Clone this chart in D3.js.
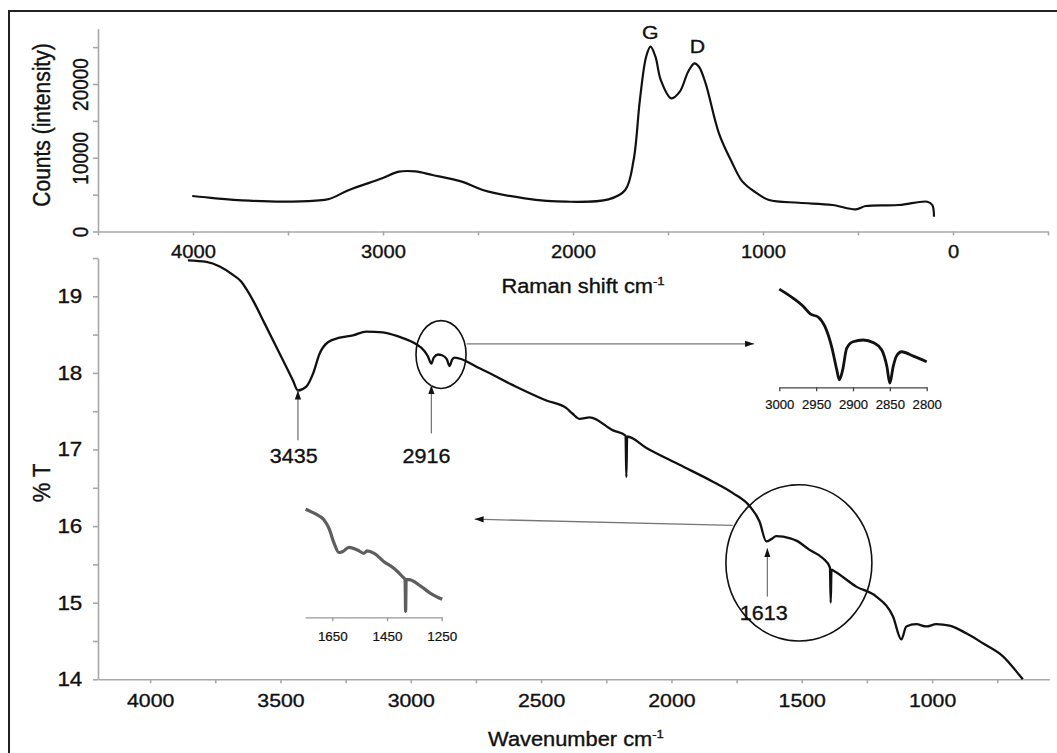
<!DOCTYPE html>
<html><head><meta charset="utf-8">
<script src="https://cdn.jsdelivr.net/npm/d3@7"></script>
<style>
body{margin:0;background:#fff}
svg{display:block}
text{font-family:"Liberation Sans",Arial,sans-serif;fill:#111;stroke:#111;stroke-width:0.35px}
</style>
</head><body>
<svg id="c" width="1057" height="753"></svg>
<script>
// ---------------- DATA ----------------
// Raman spectrum (top panel)
const ramanShift  = [4004,3881,3705,3530,3354,3284,3179,3004,2916,2830,2740,2585,2475,2254,2034,1813,1725,1681,1648,1615,1592,1566,1538,1483,1438,1394,1361,1337,1302,1232,1162,1109,1039,968,811,635,512,459,284,135,109,100];
const ramanCounts = [4810,4500,4180,4040,4180,4400,5630,7210,8110,8150,7660,6760,5630,4500,4040,4360,5630,9690,17830,23700,25060,23700,20540,18060,18960,21670,22800,22340,20090,13310,9300,6800,5300,4270,3900,3590,3000,3460,3590,4040,3590,2000];
const ramanPeakNames = ["G","D"];
const ramanPeakShift = [1593,1345];
const ramanPeakLabelCounts = [26060,24160];
const ramanXTicks  = [4500,4000,3500,3000,2500,2000,1500,1000,500,0,-500];
const ramanXLabels = [4000,3000,2000,1000,0];
const countsTicks  = [0,5000,10000,15000,20000,25000];
const countsLabels = [0,10000,20000];

// FTIR spectrum (bottom panel)
const ftirWave = [3855,3784,3733,3682,3650,3630,3606,3560,3510,3452,3433,3401,3375,3350,3318,3273,3222,3171,3107,3043,2992,2973,2960,2935,2921,2912,2896,2880,2862,2851,2842,2832,2736,2608,2480,2403,2380,2352,2314,2224,2176,2173,2170,2096,1969,1841,1764,1700,1662,1636,1617,1598,1544,1521,1470,1419,1392,1389,1386,1375,1291,1214,1150,1118,1099,1061,1022,984,933,869,805,728,664,652];
const ftirT    = [19.47,19.45,19.39,19.28,19.19,19.09,18.95,18.64,18.30,17.90,17.77,17.82,17.99,18.25,18.40,18.46,18.49,18.54,18.53,18.47,18.40,18.36,18.33,18.22,18.12,18.20,18.24,18.23,18.18,18.09,18.17,18.20,18.06,17.84,17.64,17.54,17.47,17.40,17.42,17.25,17.18,16.64,17.17,17.02,16.80,16.58,16.43,16.26,16.06,15.80,15.83,15.87,15.84,15.81,15.69,15.58,15.46,15.00,15.43,15.41,15.21,15.08,14.82,14.52,14.69,14.72,14.69,14.72,14.70,14.60,14.47,14.30,14.05,14.00];
const ftirXTicks  = [4000,3750,3500,3250,3000,2750,2500,2250,2000,1750,1500,1250,1000,750];
const ftirXLabels = [4000,3500,3000,2500,2000,1500,1000];
const tTicks  = [14,14.5,15,15.5,16,16.5,17,17.5,18,18.5,19,19.5];
const tLabels = [14,15,16,17,18,19];

// peak annotations (wavenumber / %T)
const peakLabel  = ["3435","2916","1613"];
const peakWave   = [3433,2921,1632];
const peakTipT   = [17.77,17.84,15.71];
const peakTailT  = [17.12,17.21,15.08];
const labelWave  = [3449,2940,1646];
const labelT     = [16.82,16.83,14.78];

// zoom circles and connector arrows (wavenumber / %T)
const circleWave = [2884,1511];
const circleT    = [18.24,15.52];
const circleHalfWave = [96,280];
const circleHalfT    = [0.443,1.02];
const connFromWave = [2786,1765];
const connFromT    = [18.38,16.01];
const connToWave   = [1683,2755];
const connToT      = [18.38,16.09];

// inset 1: C-H stretching region
const inset1Wave = [3000,2981,2967,2958,2947,2938,2929,2922,2918.6,2914,2908.6,2900,2886,2872,2861,2854,2850,2845.5,2841,2834,2818,2800];
const inset1T    = [18.434,18.398,18.365,18.337,18.324,18.287,18.209,18.118,18.079,18.118,18.202,18.228,18.235,18.224,18.196,18.131,18.066,18.131,18.172,18.189,18.172,18.150];
const inset1Ticks = [3000,2950,2900,2850,2800];

// inset 2: 1750-1250 region
const inset2Wave = [1748,1705,1681,1662,1644,1626,1613,1589,1558,1534,1524,1497,1461,1424,1394,1384,1382,1380,1370,1327,1291,1248];
const inset2T    = [16.25,16.18,16.12,16.01,15.83,15.71,15.72,15.775,15.74,15.70,15.73,15.70,15.595,15.51,15.41,15.37,14.97,15.37,15.37,15.29,15.20,15.125];
const inset2Ticks = [1650,1450,1250];

// ---------------- DRAWING ----------------
const SX = 1.12;
const svg = d3.select("#c");

const defs = svg.append("defs");
defs.append("marker").attr("id","ah").attr("viewBox","0 0 10 10").attr("refX",10).attr("refY",5)
  .attr("markerWidth",9).attr("markerHeight",9).attr("markerUnits","userSpaceOnUse").attr("orient","auto")
  .append("path").attr("d","M0,1.5L10,5L0,8.5Z").attr("fill","#111");

// frame
svg.append("path").attr("d","M9,753V11H1057").attr("fill","none").attr("stroke","#222").attr("stroke-width",2);

function styleAxis(g, color, w){
  g.selectAll("path.domain").attr("stroke",color).attr("stroke-width",w);
  g.selectAll(".tick line").attr("stroke",color).attr("stroke-width",w);
}
const intFmt = d3.format("d");

// ----- top panel: Raman -----
const xR = d3.scaleLinear().domain([4500,-500]).range([98,1048]);
const yR = d3.scaleLinear().domain([0,27500]).range([231.5,28.7]);

const gxR = svg.append("g").attr("transform",`translate(0,${yR(0)})`)
  .call(d3.axisBottom(xR).tickValues(ramanXTicks).tickSize(4).tickSizeOuter(0).tickPadding(10)
    .tickFormat(d => ramanXLabels.includes(d) ? intFmt(d) : ""));
styleAxis(gxR,"#a8a8a8",1.6);
gxR.selectAll("text").attr("font-size",18).attr("transform",`scale(${SX},1)`);

const gyR = svg.append("g").attr("transform",`translate(${xR(4500)},0)`)
  .call(d3.axisLeft(yR).tickValues(countsTicks).tickSize(5).tickSizeOuter(0)
    .tickFormat(d => countsLabels.includes(d) ? intFmt(d) : ""));
styleAxis(gyR,"#a8a8a8",1.6);
gyR.selectAll("text").attr("x",0).attr("y",-9).attr("dy",null).attr("text-anchor","middle")
  .attr("font-size",19).attr("transform",`scale(${SX},1) rotate(-90)`);

svg.append("text").attr("transform",`translate(50,125) scale(${SX},1) rotate(-90)`)
  .attr("text-anchor","middle").attr("font-size",21).text("Counts (intensity)");

const ramanData = ramanShift.map((s,i)=>[s,ramanCounts[i]]);
svg.append("path").datum(ramanData)
  .attr("d", d3.line().x(d=>xR(d[0])).y(d=>yR(d[1])).curve(d3.curveCatmullRom.alpha(0.5)))
  .attr("fill","none").attr("stroke","#111").attr("stroke-width",2.2).attr("stroke-linejoin","round");

ramanPeakNames.forEach((n,i)=>{
  svg.append("text").attr("transform",`translate(${xR(ramanPeakShift[i])},${yR(ramanPeakLabelCounts[i])}) scale(${SX},1)`)
    .attr("text-anchor","middle").attr("font-size",19).text(n);
});

function titleWithSup(x,y,main,size){
  const t = svg.append("text").attr("transform",`translate(${x},${y}) scale(${SX},1)`)
    .attr("text-anchor","middle").attr("font-size",size);
  t.append("tspan").text(main);
  t.append("tspan").attr("font-size",size*0.6).attr("dy",-size*0.42).text("-1");
  return t;
}
titleWithSup(583,293,"Raman shift cm",19.5);

// ----- bottom panel: FTIR -----
const xF = d3.scaleLinear().domain([4200,550]).range([98,1049.4]);
const yF = d3.scaleLinear().domain([14,19.5]).range([679.3,258]);

const gxF = svg.append("g").attr("transform",`translate(0,${yF(14)})`)
  .call(d3.axisBottom(xF).tickValues(ftirXTicks).tickSize(4).tickSizeOuter(0).tickPadding(10)
    .tickFormat(d => ftirXLabels.includes(d) ? intFmt(d) : ""));
styleAxis(gxF,"#a8a8a8",1.6);
gxF.selectAll("text").attr("font-size",19).attr("transform",`scale(${SX},1)`);

const gyF = svg.append("g").attr("transform",`translate(${xF(4200)},0)`)
  .call(d3.axisLeft(yF).tickValues(tTicks).tickSize(5).tickSizeOuter(0).tickPadding(9)
    .tickFormat(d => tLabels.includes(d) ? intFmt(d) : ""));
styleAxis(gyF,"#a8a8a8",1.6);
gyF.selectAll("text").attr("font-size",20).attr("transform",`scale(${SX},1)`);

svg.append("text").attr("transform",`translate(50,483) scale(${SX},1) rotate(-90)`)
  .attr("text-anchor","middle").attr("font-size",22).text("% T");
titleWithSup(576,746,"Wavenumber cm",19.5);

const ftirData = ftirWave.map((w,i)=>[w,ftirT[i]]);
svg.append("path").datum(ftirData)
  .attr("d", d3.line().x(d=>xF(d[0])).y(d=>yF(d[1])).curve(d3.curveMonotoneX))
  .attr("fill","none").attr("stroke","#111").attr("stroke-width",2.3).attr("stroke-linejoin","round");

// circles
circleWave.forEach((w,i)=>{
  svg.append("ellipse").attr("cx",xF(w)).attr("cy",yF(circleT[i]))
    .attr("rx",Math.abs(xF(w+circleHalfWave[i])-xF(w))).attr("ry",Math.abs(yF(circleT[i]+circleHalfT[i])-yF(circleT[i])))
    .attr("fill","none").attr("stroke","#111").attr("stroke-width",1.6);
});
// connectors
connFromWave.forEach((w,i)=>{
  svg.append("line").attr("x1",xF(w)).attr("y1",yF(connFromT[i]))
    .attr("x2",xF(connToWave[i])).attr("y2",yF(connToT[i]))
    .attr("stroke","#777").attr("stroke-width",1.3).attr("marker-end","url(#ah)");
});
// peak annotations
peakLabel.forEach((lab,i)=>{
  svg.append("line").attr("x1",xF(peakWave[i])).attr("y1",yF(peakTailT[i]))
    .attr("x2",xF(peakWave[i])).attr("y2",yF(peakTipT[i]))
    .attr("stroke","#777").attr("stroke-width",1.3).attr("marker-end","url(#ah)");
  svg.append("text").attr("transform",`translate(${xF(labelWave[i])},${yF(labelT[i])}) scale(1.05,1)`)
    .attr("text-anchor","middle").attr("font-size",20.5).text(lab);
});

// ----- inset 1 -----
const xI1 = d3.scaleLinear().domain([3000,2800]).range([779.3,926.7]);
const yI1 = d3.scaleLinear().domain([18.05,18.45]).range([387.3,285]);
const gI1 = svg.append("g").attr("transform",`translate(0,387.3)`)
  .call(d3.axisBottom(xI1).tickValues(inset1Ticks).tickSize(4).tickSizeOuter(0).tickPadding(9).tickFormat(intFmt));
styleAxis(gI1,"#444",1.3);
gI1.selectAll("text").attr("font-size",12.5).attr("transform","scale(1.05,1)").style("stroke-width","0.2px");
svg.append("path").datum(inset1Wave.map((w,i)=>[w,inset1T[i]]))
  .attr("d", d3.line().x(d=>xI1(d[0])).y(d=>yI1(d[1])).curve(d3.curveMonotoneX))
  .attr("fill","none").attr("stroke","#111").attr("stroke-width",2.8).attr("stroke-linejoin","round");

// ----- inset 2 -----
const xI2 = d3.scaleLinear().domain([1750,1250]).range([305,441.7]);
const yI2 = d3.scaleLinear().domain([14.9,16.25]).range([617.3,509.3]);
const gI2 = svg.append("g").attr("transform",`translate(0,617.3)`)
  .call(d3.axisBottom(xI2).tickValues(inset2Ticks).tickSize(4).tickSizeOuter(0).tickPadding(11).tickFormat(intFmt));
styleAxis(gI2,"#999",1.3);
gI2.selectAll("text").attr("font-size",12).attr("transform","scale(1.12,1)").style("stroke-width","0.2px");
svg.append("path").datum(inset2Wave.map((w,i)=>[w,inset2T[i]]))
  .attr("d", d3.line().x(d=>xI2(d[0])).y(d=>yI2(d[1])).curve(d3.curveMonotoneX))
  .attr("fill","none").attr("stroke","#5e5e5e").attr("stroke-width",3.2).attr("stroke-linejoin","round");
</script>
</body></html>
